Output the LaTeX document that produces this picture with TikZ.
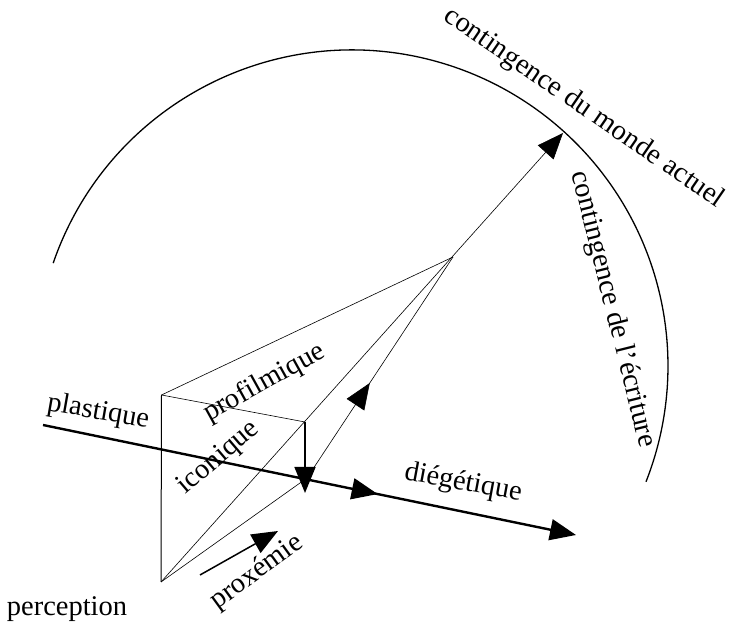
\documentclass[tikz,border=0pt]{standalone}
\usepackage{fontspec}
\setmainfont{Liberation Serif}
\usetikzlibrary{arrows.meta,decorations.markings}
\tikzset{
  lbl/.style={inner sep=0pt,font=\fontsize{28.6}{30}\selectfont},
  fine/.style={line width=0.6bp},
  midarrow/.style={postaction={decorate},decoration={markings,mark=at position #1 with {\arrow{>}}}},
}
\begin{document}
\begin{tikzpicture}[>={Triangle[length=26bp,width=21bp]},line join=bevel,]
\useasboundingbox (0bp,0bp) rectangle (730bp,624bp);
%%
\coordinate (node_0) at (161bp,42bp);
  \coordinate (node_1) at (161.5bp,229bp);
  \coordinate (node_2) at (305bp,202bp);
  \coordinate (node_3) at (307bp,146bp);
  \coordinate (node_4) at (453bp,367bp);
  \coordinate (node_5) at (563bp,491bp);
  \coordinate (node_6) at (305bp,131bp);
  \coordinate (node_7) at (43bp,199bp);
  \coordinate (node_8) at (576bp,89bp);
  \coordinate (node_9) at (200bp,49bp);
  \coordinate (node_10) at (278bp,93bp);
  \coordinate (node_11) at (53.2bp,360.9bp);
%
\node (node_12) at (580bp,510bp) [lbl,rotate=-34.5,anchor=base] {contingence du monde actuel};
  \node (node_13) at (606bp,313bp) [lbl,rotate=-76,anchor=base] {contingence de l'écriture};
  \node (node_14) at (268bp,235bp) [lbl,rotate=29,anchor=base] {profilmique};
  \node (node_15) at (223bp,161bp) [lbl,rotate=40.5,anchor=base] {iconique};
  \node (node_16) at (97bp,205bp) [lbl,rotate=-10,anchor=base] {plastique};
  \node (node_17) at (462bp,134bp) [lbl,rotate=-10.5,anchor=base] {diégétique};
  \node (node_18) at (261bp,46bp) [lbl,rotate=36,anchor=base] {proxémie};
  \node (node_19) at (67bp,9bp) [lbl,anchor=base] {perception};
%
  \draw [line width=1.3bp] (node_11) arc [start angle=161,end angle=-21.5,radius=316bp];
  \draw [line width=1bp] (node_0) -- (node_1);
  \draw [fine] (node_1) -- (node_4);
  \draw [fine] (node_1) -- (node_2);
  \draw [fine,->] (node_0) -- (node_5);
  \draw [fine] (node_0) -- (node_3);
  \draw [fine,midarrow=0.43] (node_3) -- (node_4);
  \draw [line width=1.6bp,->] (node_2) -- (node_6);
  \draw [line width=2.4bp,->,midarrow=0.628] (node_7) -- (node_8);
  \draw [line width=1.5bp,->] (node_9) -- (node_10);
%
\end{tikzpicture}
\end{document}
